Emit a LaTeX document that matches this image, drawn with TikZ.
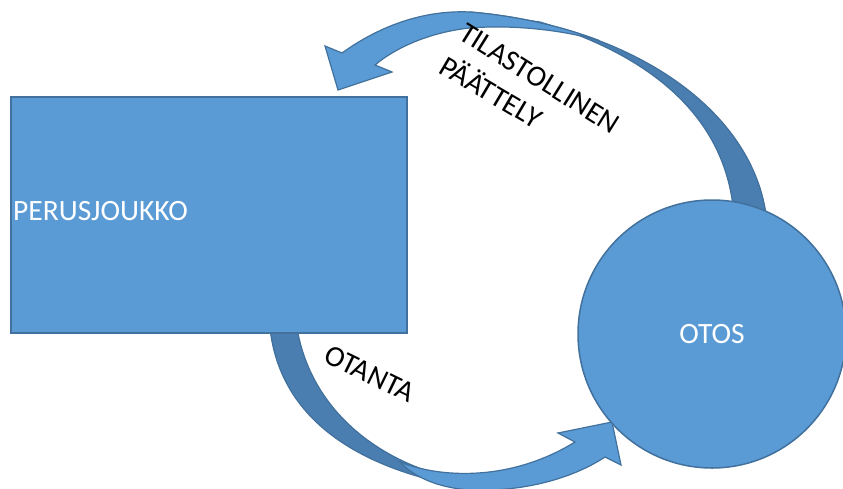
\documentclass[tikz,border=0pt]{standalone}
\usepackage{fontspec}
\setmainfont{Carlito}
\definecolor{fillblue}{HTML}{5B9BD5}
\definecolor{edgeblue}{HTML}{41719C}
\definecolor{backblue}{HTML}{4A7DB0}
\begin{document}
\begin{tikzpicture}[x=1pt,y=-1pt,
  shapefill/.style={fill=fillblue,draw=edgeblue,line width=1.5pt},
  backband/.style={fill=backblue,draw=edgeblue,line width=1.2pt,line join=round},
  frontband/.style={fill=fillblue,draw=edgeblue,line width=1.2pt,line join=miter},
  inlabel/.style={text=white,font=\fontsize{29.5}{35}\selectfont,inner sep=0pt},
  arclabel/.style={text=black,font=\fontsize{29.5}{35}\selectfont,inner sep=0pt,anchor=base west}]

\fill[white] (0,0) rectangle (843,488);
\useasboundingbox (0,0) rectangle (843,488);

% upper curved arrow: back face of the band, rising from the circle
\path[backband] (733,206) .. controls (722,115) and (650,55) .. (540,22)
  -- (470,12) .. controls (625,25) and (750,105) .. (766,214) -- cycle;
% upper curved arrow: front face with the head pointing at the rectangle
\path[frontband] (342,53) .. controls (385,22) and (430,10) .. (470,12)
  .. controls (516.5,15.9) and (560.3,25.8) .. (599.3,40.6)
  .. controls (570,32) and (520,24) .. (470,28)
  .. controls (430,32) and (395,48) .. (375,65)
  -- (392,72) -- (338,90) -- (325,46) -- cycle;

% lower curved arrow: back face of the band, leaving the rectangle
\path[backband] (270,328) .. controls (280,420) and (360,470) .. (470,488)
  -- (440,475) .. controls (370,455) and (310,405) .. (297,328) -- cycle;
% lower curved arrow: front face with the head pointing at the circle
\path[frontband] (400,462) .. controls (440,478) and (510,482) .. (575,442)
  -- (558,433) -- (612,422) -- (621,465) -- (605,457)
  .. controls (570,480) and (520,492) .. (470,490)
  .. controls (440,488) and (415,478) .. (400,462) -- cycle;

% population and sample
\node[shapefill,rectangle,minimum width=396pt,minimum height=236pt,inner sep=0pt] (pj) at (209,215) {};
\node[inlabel,anchor=base west] (pjtext) at (13,220) {PERUSJOUKKO};
\node[shapefill,circle,minimum size=268pt,inner sep=0pt,text=white,font=\fontsize{29.5}{35}\selectfont] (otos) at (712,334) {OTOS};

% arrow captions
\node[arclabel,rotate=-32] (t1) at (457,38) {TILASTOLLINEN};
\node[arclabel,rotate=-30.5] (t2) at (437,72) {PÄÄTTELY};
\node[arclabel,rotate=-26] (t3) at (322,361) {OTANTA};
\end{tikzpicture}
\end{document}
